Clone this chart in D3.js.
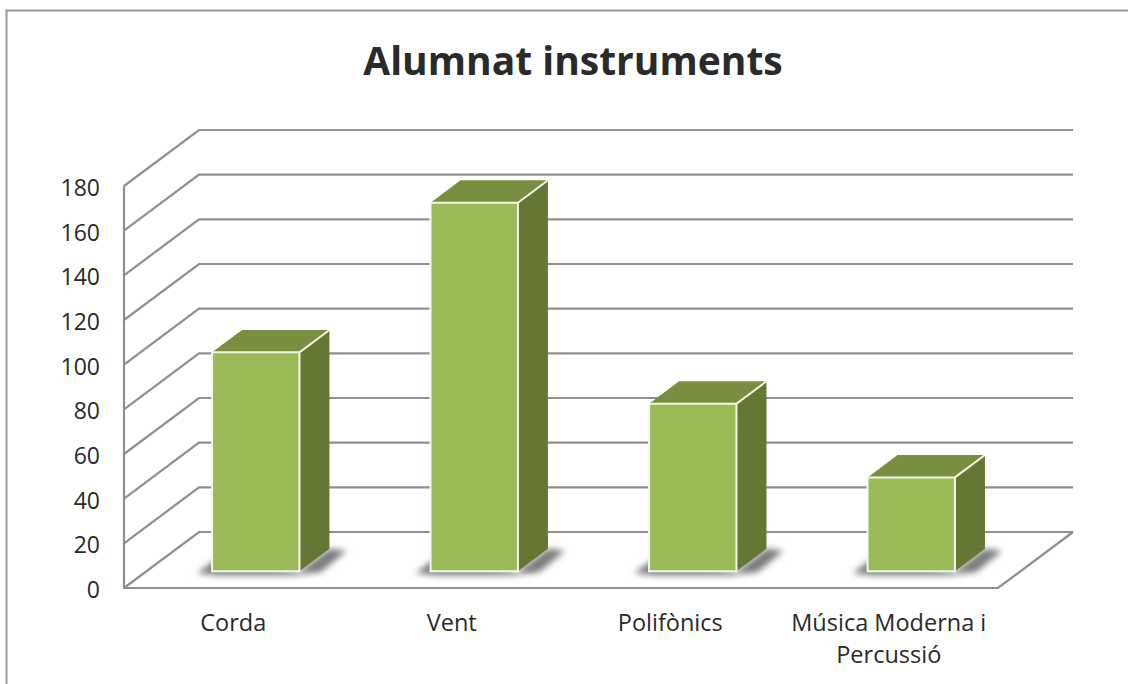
<!DOCTYPE html>
<html>
<head>
<meta charset="utf-8">
<script src="https://cdn.jsdelivr.net/npm/d3@7"></script>
<style>
  body { margin: 0; background: #fff; }
  text { font-family: "Open Sans", sans-serif; fill: #2a2a2a; }
</style>
</head>
<body>
<div class="chart"></div>
<script>
// Data.
const categories = ['Corda', 'Vent', 'Polifònics', 'Música Moderna i|Percussió'];
const students = [98, 165, 75, 42];
const yTicks = [0, 20, 40, 60, 80, 100, 120, 140, 160, 180];

const width = 1128,
    height = 684;

const svg = d3.select('.chart')
    .append('svg')
    .attr('width', width)
    .attr('height', height)
    .style('display', 'block');

// Front plane of the 3D box, and how far the back plane is shifted.
const x = d3.scaleBand().domain(categories).range([124, 998]).paddingInner(0).paddingOuter(0);
const y = d3.scaleLinear().domain([0, 180]).range([588, 186]);
const depth = d3.scaleLinear().domain([0, 1]).range([[0, 0], [75, -56]]);

// value + depth fraction to screen.
function project(px, v, z) {
    const d = depth(z);
    return [px + d[0], y(v) + d[1]];
}

const line = d3.line();
const gridColor = '#8f8f8f';

// Outer frame, cut off by the picture on the right and at the bottom.
svg.append('path')
    .attr('d', line([[6.5, height], [6.5, 10.5], [width, 10.5]]))
    .attr('fill', 'none')
    .attr('stroke', '#9a9a9a')
    .attr('stroke-width', 2);

svg.append('text')
    .attr('x', 573)
    .attr('y', 75)
    .attr('text-anchor', 'middle')
    .attr('font-size', 39)
    .attr('font-weight', 700)
    .text('Alumnat instruments');

// Blurred shadow under the bars.
const defs = svg.append('defs');
defs.append('filter')
    .attr('id', 'blur')
    .attr('x', '-30%').attr('y', '-50%').attr('width', '160%').attr('height', '200%')
    .append('feGaussianBlur')
    .attr('stdDeviation', 3);

// Gridlines: side wall + back wall.
const [left, right] = x.range();
svg.append('g')
    .selectAll('path')
    .data(yTicks)
    .join('path')
    .attr('d', d => line([project(left, d, 0), project(left, d, 1), project(right, d, 1)]))
    .attr('fill', 'none')
    .attr('stroke', gridColor)
    .attr('stroke-width', 2.2);

// Axis lines on the front edge + floor outline.
svg.append('path')
    .attr('d', line([project(left, 180, 0), project(left, 0, 0), project(right, 0, 0), project(right, 0, 1)]))
    .attr('fill', 'none')
    .attr('stroke', gridColor)
    .attr('stroke-width', 2.2);

// Y tick labels.
svg.append('g')
    .selectAll('text')
    .data(yTicks)
    .join('text')
    .attr('x', 100)
    .attr('y', d => y(d) + 10)
    .attr('text-anchor', 'end')
    .attr('font-size', 23)
    .text(d => d);

// Bars sit between 30% and 70% of the band and of the depth.
const barData = categories.map((c, i) => ({ c, v: students[i] }));
const barG = svg.append('g')
    .selectAll('g')
    .data(barData)
    .join('g');

const z0 = 0.3,
    z1 = 0.7;

function poly(pts) {
    return line(pts) + 'Z';
}

function barLeft(d) { return x(d.c) + x.bandwidth() * 0.3; }
function barRight(d) { return x(d.c) + x.bandwidth() * 0.7; }

// shadow on the left, fading outwards.
barG.append('path')
    .attr('d', d => {
        const a = project(barLeft(d), 0, z0);
        const b = project(barRight(d), 0, z0);
        return poly([[a[0] + 4, a[1] - 12], [a[0] - 15, a[1] + 2], [a[0] + 5, a[1] + 4], [b[0], b[1] + 4], b]);
    })
    .attr('fill', '#7a7a7a')
    .attr('filter', 'url(#blur)');

// shadow on the right, stretched along the floor.
barG.append('path')
    .attr('d', d => {
        const b = project(barRight(d), 0, z0);
        const e = project(barRight(d), 0, z1);
        return poly([b, e, [e[0] + 17, e[1] + 2], [b[0] + 21, b[1] + 1], [b[0], b[1] + 3]]);
    })
    .attr('fill', '#7a7a7a')
    .attr('filter', 'url(#blur)');

// side
barG.append('path')
    .attr('d', d => poly([
        project(barRight(d), 0, z0), project(barRight(d), 0, z1),
        project(barRight(d), d.v, z1), project(barRight(d), d.v, z0)
    ]))
    .attr('fill', '#647733');

// top
barG.append('path')
    .attr('d', d => poly([
        project(barLeft(d), d.v, z0), project(barRight(d), d.v, z0),
        project(barRight(d), d.v, z1), project(barLeft(d), d.v, z1)
    ]))
    .attr('fill', '#788f40');

// front
barG.append('path')
    .attr('d', d => poly([
        project(barLeft(d), 0, z0), project(barRight(d), 0, z0),
        project(barRight(d), d.v, z0), project(barLeft(d), d.v, z0)
    ]))
    .attr('fill', '#9bbb59');

// white edges
barG.append('path')
    .attr('d', d => {
        const a = project(barLeft(d), 0, z0),
            b = project(barRight(d), 0, z0),
            c = project(barRight(d), d.v, z0),
            e = project(barLeft(d), d.v, z0),
            f = project(barRight(d), d.v, z1);
        return line([e, a, b, c, e]) + line([c, f]);
    })
    .attr('fill', 'none')
    .attr('stroke', '#f4f7ec')
    .attr('stroke-width', 2);

// Category labels, split over two lines where needed.
const catLabels = svg.append('g')
    .selectAll('text')
    .data(categories)
    .join('text')
    .attr('text-anchor', 'middle')
    .attr('font-size', 23.5)
    .attr('y', 631);

catLabels.selectAll('tspan')
    .data(d => d.split('|').map(t => ({ t, c: d })))
    .join('tspan')
    .attr('x', d => x(d.c) + x.bandwidth() / 2)
    .attr('dy', (d, i) => i ? 32 : 0)
    .text(d => d.t);
</script>
</body>
</html>
